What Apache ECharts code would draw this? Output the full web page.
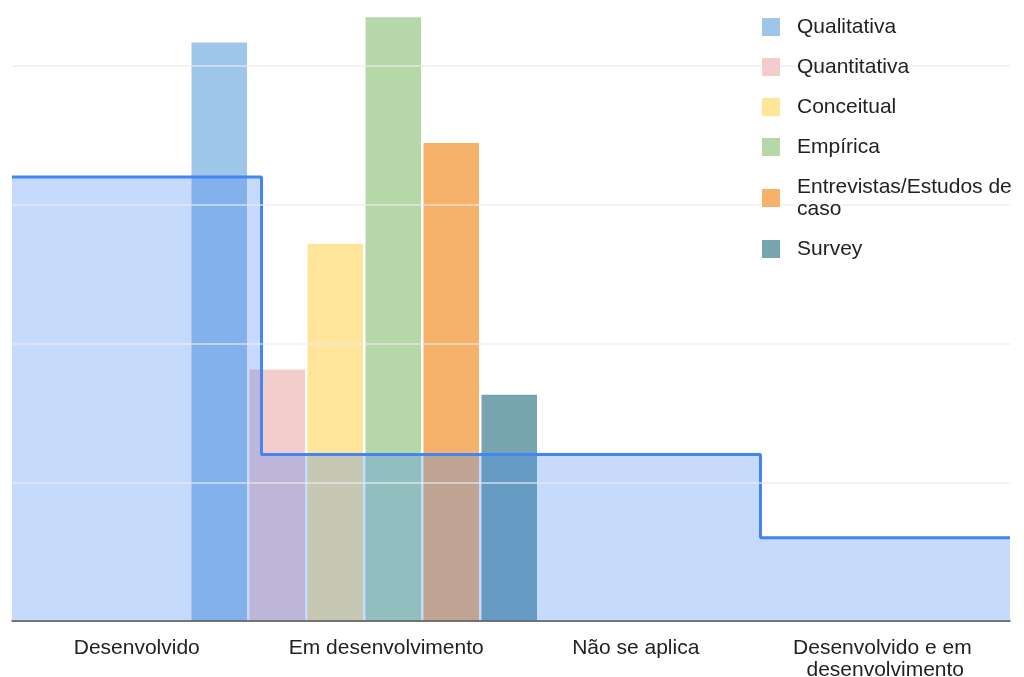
<!DOCTYPE html>
<html>
<head>
<meta charset="utf-8">
<script src="https://cdn.jsdelivr.net/npm/echarts@6/dist/echarts.min.js"></script>
<style>
  html, body { margin: 0; padding: 0; background: #fff; }
  #chart { width: 1024px; height: 677px; }
</style>
</head>
<body>
<div id="chart"></div>
<script>
// categorias do eixo x (serie de area em degraus)
const categories = ['Desenvolvido', 'Em desenvolvimento', 'Não se aplica', 'Desenvolvido e em desenvolvimento'];
const areaValues = [16, 6, 6, 3];

// barras (metodologia)
const barNames = ['Qualitativa', 'Quantitativa', 'Conceitual', 'Empírica', 'Entrevistas/Estudos de caso', 'Survey'];
const barValues = [23, 10, 15, 24, 19, 9];
const barColors = ['#9fc5e8', '#f4cccc', '#ffe599', '#b6d7a8', '#f6b26b', '#76a5af'];

const font = '"Liberation Sans", Arial, sans-serif';

// pontos do degrau: um por categoria + o fim do ultimo degrau
const stepData = categories.map((c, i) => [i, areaValues[i]]);
stepData.push([categories.length, areaValues[areaValues.length - 1]]);

const chart = echarts.init(document.getElementById('chart'));

const option = {
  animation: false,
  legend: {
    data: barNames,
    orient: 'vertical',
    left: 762,
    top: 16,
    z: 20,
    padding: 0,
    icon: 'rect',
    itemWidth: 18,
    itemHeight: 18,
    itemGap: 18,
    textStyle: {
      fontFamily: font,
      fontSize: 21,
      color: '#222',
      lineHeight: 22,
      padding: [0, 0, 0, 12],
      width: 230,
      overflow: 'break'
    }
  },
  grid: [
    { left: 12, right: 14, top: 0, bottom: 56, outerBoundsMode: 'none', containLabel: false },
    { left: 191.5, right: 487, top: 0, bottom: 56, outerBoundsMode: 'none', containLabel: false }
  ],
  xAxis: [
    {
      type: 'category',
      gridIndex: 0,
      data: categories,
      z: 10,
      axisLine: { lineStyle: { color: '#4d4d4d', width: 1.5 } },
      axisTick: { show: false },
      axisLabel: {
        interval: 0,
        fontFamily: font,
        fontSize: 21,
        color: '#222',
        margin: 16,
        lineHeight: 22,
        width: 240,
        overflow: 'break'
      }
    },
    { type: 'value', gridIndex: 0, min: 0, max: categories.length, show: false },
    { type: 'category', gridIndex: 1, data: ['Metodologia'], show: false }
  ],
  yAxis: [
    {
      type: 'value',
      gridIndex: 0,
      min: 0,
      max: 22.38,
      interval: 5,
      z: 8,
      axisLabel: { show: false },
      axisLine: { show: false },
      axisTick: { show: false },
      splitLine: {
        showMaxLine: false,
        lineStyle: { color: 'rgba(235,235,235,0.8)', width: 1.5 }
      }
    },
    { type: 'value', gridIndex: 1, min: 0, max: 24.69, show: false }
  ],
  series: [
    ...barNames.map((name, i) => ({
      name: name,
      type: 'bar',
      xAxisIndex: 2,
      yAxisIndex: 1,
      data: [barValues[i]],
      barGap: '4.5%',
      barCategoryGap: 0,
      z: 2,
      itemStyle: { color: barColors[i] }
    })),
    {
      name: 'Área',
      type: 'line',
      xAxisIndex: 1,
      yAxisIndex: 0,
      data: stepData,
      step: 'end',
      symbol: 'none',
      z: 3,
      lineStyle: { color: '#4285f4', width: 3 },
      areaStyle: { color: '#4285f4', opacity: 0.3 }
    }
  ]
};

chart.setOption(option);
</script>
</body>
</html>
